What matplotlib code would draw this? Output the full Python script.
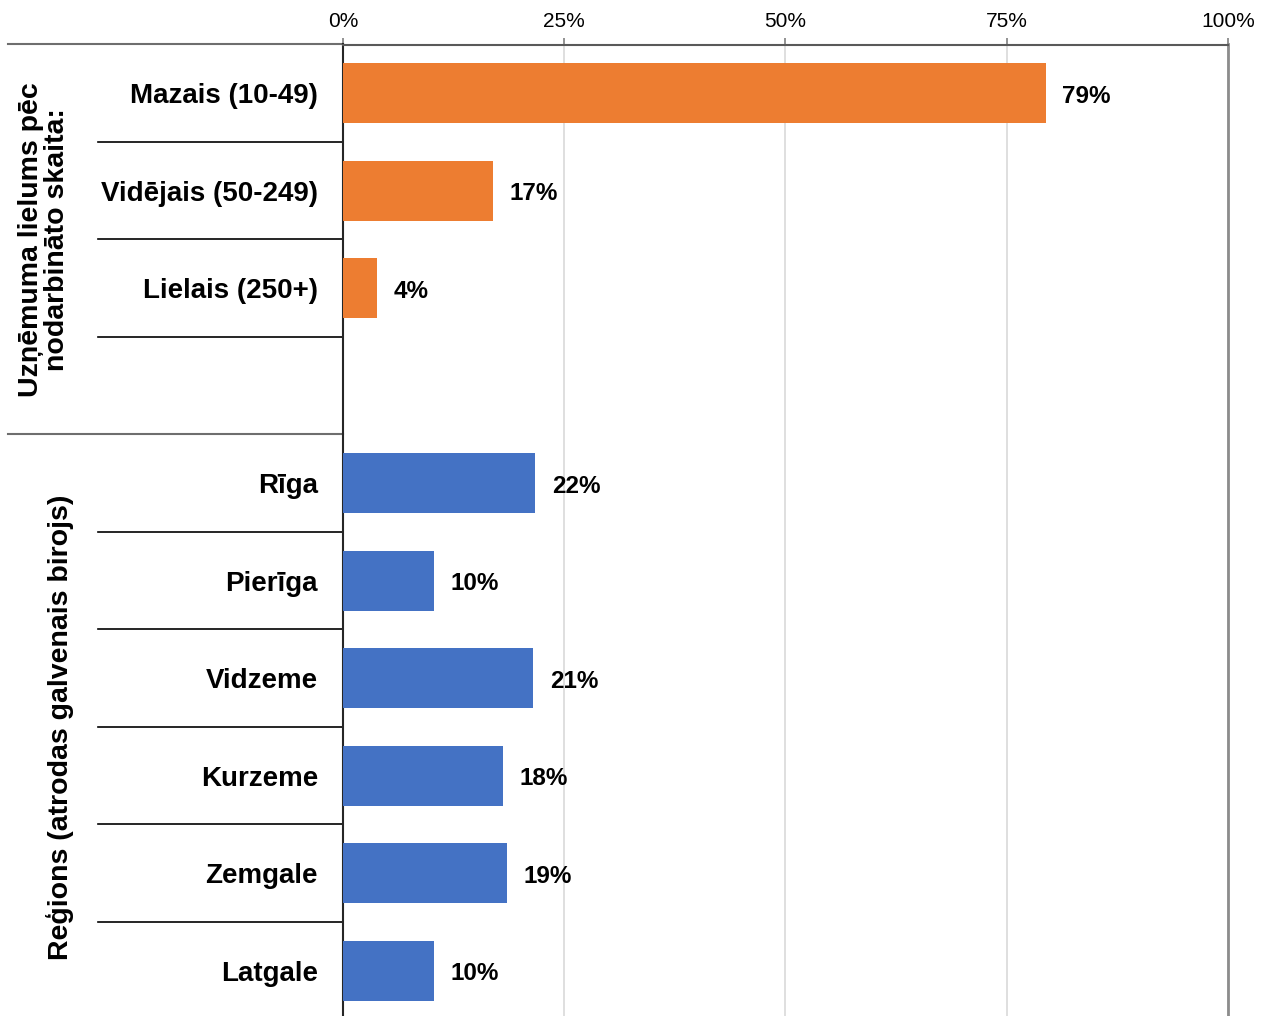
import matplotlib.pyplot as plt
import matplotlib.transforms as mtransforms

plt.rcParams['font.family'] = ['Liberation Sans', 'DejaVu Sans']

# data
size_labels = ["Mazais (10-49)", "Vidējais (50-249)", "Lielais (250+)"]
size_values = [0.794, 0.169, 0.038]
size_text = ["79%", "17%", "4%"]

region_labels = ["Rīga", "Pierīga", "Vidzeme", "Kurzeme", "Zemgale", "Latgale"]
region_values = [0.217, 0.103, 0.215, 0.181, 0.185, 0.103]
region_text = ["22%", "10%", "21%", "18%", "19%", "10%"]

group_titles = ["Uzņēmuma lielums pēc\nnodarbināto skaita:",
                "Reģions (atrodas galvenais birojs)"]

ORANGE = "#ED7D31"
BLUE = "#4472C4"

fig = plt.figure(figsize=(12.61, 10.16), dpi=100)
ax = fig.add_axes([343 / 1261, -3.5 / 1016, 885 / 1261, 975 / 1016])

labels = size_labels + [""] + region_labels
values = size_values + [None] + region_values
texts = size_text + [""] + region_text
colors = [ORANGE] * len(size_labels) + [None] + [BLUE] * len(region_labels)

n = len(labels)
ypos = list(range(n))
for y, v, c, t in zip(ypos, values, colors, texts):
    if v is None:
        continue
    ax.barh(y, v, height=0.62, color=c, zorder=3)
    ax.annotate(t, (v, y), xytext=(12, -2), textcoords="offset points",
                va="center", ha="left", fontsize=17.5, fontweight="bold")

ax.set_ylim(n - 0.5, -0.5)
ax.set_xlim(0, 1)
ax.set_yticks(ypos)
ax.set_yticklabels(labels, fontsize=20, fontweight="bold")
ax.tick_params(axis="y", length=0, pad=18)

ax.xaxis.tick_top()
ax.set_xticks([0, 0.25, 0.5, 0.75, 1.0])
ax.set_xticklabels(["0%", "25%", "50%", "75%", "100%"], fontsize=15)
ax.tick_params(axis="x", length=5, width=1.2, color="#808080", pad=5)
ax.grid(axis="x", color="#d9d9d9", linewidth=1.2, zorder=0)

ax.spines["bottom"].set_visible(False)
ax.spines["top"].set_color("#595959")
ax.spines["top"].set_linewidth(1.5)
ax.spines["right"].set_color("#8c8c8c")
ax.spines["right"].set_linewidth(2)
ax.spines["left"].set_color("#262626")
ax.spines["left"].set_linewidth(1.5)

# separator lines left of the axes
trans = mtransforms.blended_transform_factory(ax.transAxes, ax.transData)
x_short = (98 - 343) / 885
x_long = (8 - 343) / 885
group_edges = [-0.5, len(size_labels) + 0.5]
for i in range(n - 1):
    yb = i + 0.5
    if yb in group_edges:
        continue
    ax.plot([x_short, 0], [yb, yb], color="black", linewidth=1.2,
            transform=trans, clip_on=False)
for yb in group_edges:
    ax.plot([x_long, 0], [yb, yb], color="#6e6e6e", linewidth=1.5,
            transform=trans, clip_on=False)

# group titles
g1_center = (-0.5 + len(size_labels) + 0.5) / 2
g2_center = (len(size_labels) + 0.5 + n - 0.5) / 2
ax.text((44 - 343) / 885, g1_center, group_titles[0], transform=trans,
        rotation=90, ha="center", va="center", multialignment="center",
        fontsize=20.5, fontweight="bold", linespacing=1.0)
ax.text((60 - 343) / 885, g2_center, group_titles[1], transform=trans,
        rotation=90, ha="center", va="center",
        fontsize=20.5, fontweight="bold")

fig.savefig("out.png", dpi=100)
